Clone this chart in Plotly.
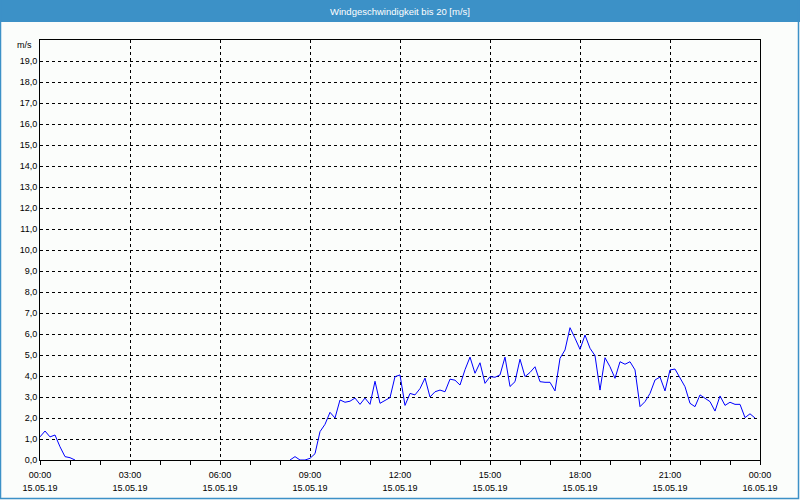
import pandas as pd
import plotly.graph_objects as go

title_text = "Windgeschwindigkeit bis 20 [m/s]"
unit_label = "m/s"

# 10-minute samples, 15.05.19 00:00 .. 23:50
times = pd.date_range("2019-05-15 00:00", periods=144, freq="10min")

speed_night = [1.1, 1.38, 1.1, 1.19, 0.63, 0.16, 0.11, 0.0]          # 00:00-01:10
speed_gap = [None] * 42                                                # 01:20-08:10 (no line)
speed_morning = [0.0, 0.16, 0.0, 0.0, 0.08]                            # 08:20-09:00
speed_day = [0.3, 1.35, 1.7, 2.27, 2.0, 2.86, 2.75, 2.8, 2.95, 2.65, 2.95, 2.65,
             3.75, 2.7, 2.85, 2.97, 3.97, 4.05, 2.6, 3.17, 3.1, 3.4, 3.9, 3.0,
             3.25, 3.33, 3.25, 3.85, 3.8, 3.57, 4.3, 4.9, 4.13, 4.63, 3.65, 3.97,
             3.94, 4.05, 4.9, 3.5, 3.73, 4.8, 3.97, 4.17, 4.44, 3.73, 3.7, 3.7,
             3.29, 4.84, 5.24, 6.3, 5.8, 5.27, 5.95, 5.32, 4.97, 3.33, 4.87, 4.44,
             3.89, 4.68, 4.56, 4.68, 4.29, 2.54, 2.78, 3.17, 3.81, 3.95, 3.29, 4.29,
             4.33, 3.89, 3.49, 2.7, 2.54, 3.1, 2.94, 2.78, 2.33, 3.05, 2.6, 2.75,
             2.65, 2.65, 2.02, 2.2, 2.0]                                # 09:10-23:50
speed = speed_night + speed_gap + speed_morning + speed_day

x_tick_times = ["2019-05-15 00:00", "2019-05-15 03:00", "2019-05-15 06:00", "2019-05-15 09:00",
                "2019-05-15 12:00", "2019-05-15 15:00", "2019-05-15 18:00", "2019-05-15 21:00",
                "2019-05-16 00:00"]
x_tick_hours = ["00:00", "03:00", "06:00", "09:00", "12:00", "15:00", "18:00", "21:00", "00:00"]
x_tick_dates = ["15.05.19", "15.05.19", "15.05.19", "15.05.19", "15.05.19", "15.05.19",
                "15.05.19", "15.05.19", "16.05.19"]
y_tick_vals = list(range(0, 20))
y_tick_text = [f"{v},0" for v in y_tick_vals]

x_range = ["2019-05-15 00:00", "2019-05-16 00:00"]

BG = "#fbfdfb"
BLUE = "#3c91c7"
FONT = "Liberation Sans"

fig = go.Figure()
fig.add_trace(go.Scatter(x=times, y=speed, mode="lines",
                         line=dict(color="#0000ff", width=1), connectgaps=False,
                         hoverinfo="skip", showlegend=False))
# invisible trace for the date row axis
fig.add_trace(go.Scatter(x=x_range, y=[None, None], xaxis="x2", mode="lines",
                         showlegend=False, hoverinfo="skip"))

W, H = 800, 500
L, R, T, B = 40, 40, 40, 40
pw, ph = W - L - R, H - T - B


def px(xp):
    return (xp - L) / pw


def py(yp):
    return (H - B - yp) / ph


fig.update_layout(
    width=W, height=H,
    margin=dict(l=L, r=R, t=T, b=B, autoexpand=False),
    paper_bgcolor=BG, plot_bgcolor=BG,
    font=dict(family=FONT, size=9, color="#000000"),
    xaxis=dict(
        type="date", range=x_range, tickvals=x_tick_times, ticktext=x_tick_hours,
        showgrid=True, gridcolor="#000000", griddash="3px,3px", gridwidth=1,
        showline=True, linecolor="#000000", linewidth=1, mirror=True,
        ticks="outside", ticklen=4, tickcolor="#000000", tickwidth=1,
        minor=dict(dtick=3600000, ticks="outside", ticklen=4, tickcolor="#000000", showgrid=False),
        zeroline=False, tickfont=dict(family=FONT, size=9, color="#000000"),
        tickangle=0, layer="above traces", automargin=False, ticklabelstandoff=2,
    ),
    xaxis2=dict(
        type="date", range=x_range, overlaying="x", side="bottom", anchor="y",
        tickvals=x_tick_times, ticktext=x_tick_dates, showgrid=False, showline=False,
        ticks="", ticklabelstandoff=21, zeroline=False, automargin=False,
        tickfont=dict(family=FONT, size=9, color="#000000"), tickangle=0,
    ),
    yaxis=dict(
        range=[0, 20], tickvals=y_tick_vals, ticktext=y_tick_text,
        showgrid=True, gridcolor="#000000", griddash="3px,3px", gridwidth=1,
        showline=True, linecolor="#000000", linewidth=1, mirror=True,
        ticks="", zeroline=False, tickfont=dict(family=FONT, size=9, color="#000000"),
        layer="above traces", automargin=False,
    ),
    shapes=[
        dict(type="rect", xref="paper", yref="paper", x0=px(0), x1=px(W), y0=py(22), y1=py(0),
             fillcolor=BLUE, line=dict(width=0), layer="below"),
        dict(type="rect", xref="paper", yref="paper", x0=px(0.5), x1=px(W - 1.5), y0=py(H - 1.5), y1=py(0),
             fillcolor="rgba(0,0,0,0)", line=dict(color=BLUE, width=1.5), layer="below"),
    ],
    annotations=[
        dict(text=title_text, xref="paper", yref="paper", x=px(W / 2), y=py(11),
             xanchor="center", yanchor="middle", showarrow=False,
             font=dict(family=FONT, size=9.5, color="#ffffff")),
        dict(text=unit_label, xref="paper", yref="paper", x=px(34), y=py(45),
             xanchor="right", yanchor="middle", showarrow=False,
             font=dict(family=FONT, size=9, color="#000000")),
    ],
)

fig.write_html("out.html")
